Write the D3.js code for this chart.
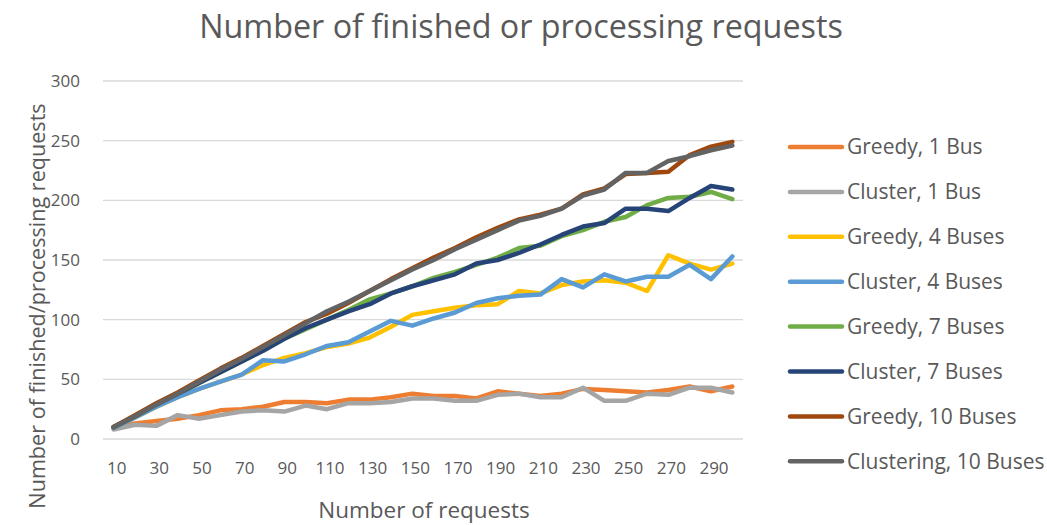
<!DOCTYPE html>
<html>
<head>
<meta charset="utf-8">
<title>Number of finished or processing requests</title>
<script src="https://d3js.org/d3.v7.min.js"></script>
<style>
  body { margin: 0; background: #fff; }
  text { font-family: "Open Sans", "Noto Sans", sans-serif; fill: #595959; }
</style>
</head>
<body>
<div id="chart"></div>
<script>
var width = 1047, height = 525;
var margin = {top: 81, right: 304, bottom: 86, left: 103};

// number of requests (x categories)
var requests = [10, 20, 30, 40, 50, 60, 70, 80, 90, 100, 110, 120, 130, 140, 150,
  160, 170, 180, 190, 200, 210, 220, 230, 240, 250, 260, 270, 280, 290, 300];
var xTicks = [10, 30, 50, 70, 90, 110, 130, 150, 170, 190, 210, 230, 250, 270, 290];
var yTicks = [0, 50, 100, 150, 200, 250, 300];

var greedy1 = [9, 13, 15, 17, 20, 24, 25, 27, 31, 31, 30, 33, 33, 35, 38,
  36, 36, 34, 40, 38, 36, 38, 42, 41, 40, 39, 41, 44, 40, 44];
var cluster1 = [8, 12, 11, 20, 17, 20, 23, 24, 23, 28, 25, 30, 30, 31, 34,
  34, 32, 32, 37, 38, 35, 35, 43, 32, 32, 38, 37, 43, 43, 39];
var greedy4 = [9, 18, 27, 35, 42, 48, 54, 62, 68, 72, 77, 80, 85, 94, 104,
  107, 110, 112, 113, 124, 122, 129, 132, 133, 131, 124, 154, 147, 142, 147];
var cluster4 = [9, 18, 27, 35, 42, 48, 54, 66, 65, 71, 78, 81, 90, 99, 95,
  101, 106, 114, 118, 120, 121, 134, 127, 138, 132, 136, 136, 146, 134, 153];
var greedy7 = [10, 19, 29, 38, 47, 56, 65, 74, 84, 92, 100, 108, 117, 122, 128,
  135, 140, 146, 152, 160, 162, 170, 175, 182, 186, 196, 202, 203, 207, 201];
var cluster7 = [10, 19, 29, 38, 47, 56, 65, 74, 84, 93, 100, 107, 113, 122, 128,
  133, 138, 147, 150, 156, 163, 171, 178, 181, 193, 193, 191, 202, 212, 209];
var greedy10 = [10, 20, 30, 39, 49, 59, 68, 78, 88, 98, 105, 114, 124, 134, 143,
  152, 160, 169, 177, 184, 188, 193, 205, 210, 222, 223, 224, 238, 245, 249];
var cluster10 = [10, 19, 29, 38, 48, 58, 67, 77, 87, 97, 107, 115, 124, 133, 142,
  150, 159, 167, 175, 183, 187, 193, 204, 209, 223, 223, 233, 237, 242, 246];

var seriesNames = ["Greedy, 1 Bus", "Cluster, 1 Bus", "Greedy, 4 Buses", "Cluster, 4 Buses",
  "Greedy, 7 Buses", "Cluster, 7 Buses", "Greedy, 10 Buses", "Clustering, 10 Buses"];
var seriesValues = [greedy1, cluster1, greedy4, cluster4, greedy7, cluster7, greedy10, cluster10];
var colors = ["#ED7D31", "#A5A5A5", "#FFC000", "#5B9BD5", "#70AD47", "#264478", "#9E480E", "#636363"];

var series = seriesNames.map(function(name, i) {
  return {name: name, color: colors[i], values: seriesValues[i]};
});

var svg = d3.select('#chart')
  .append('svg')
  .attr('width', width)
  .attr('height', height);

var x = d3.scaleBand()
  .domain(requests)
  .range([margin.left, width - margin.right])
  .padding(0);

var y = d3.scaleLinear()
  .domain([0, 300])
  .range([height - margin.bottom, margin.top]);

// grid lines
svg.append('g')
  .selectAll('line')
  .data(yTicks)
  .enter()
  .append('line')
  .attr('x1', margin.left)
  .attr('x2', width - margin.right)
  .attr('y1', d => y(d))
  .attr('y2', d => y(d))
  .attr('stroke', '#d9d9d9')
  .attr('stroke-width', 1.3);

// y tick labels
svg.append('g')
  .selectAll('text')
  .data(yTicks)
  .enter()
  .append('text')
  .attr('x', 80)
  .attr('y', d => y(d))
  .attr('dy', '0.35em')
  .attr('text-anchor', 'end')
  .attr('font-size', 17)
  .text(d => d);

// x tick labels
svg.append('g')
  .selectAll('text')
  .data(xTicks)
  .enter()
  .append('text')
  .attr('x', d => x(d) + x.bandwidth() / 2 + 3)
  .attr('y', 474)
  .attr('text-anchor', 'middle')
  .attr('font-size', 17)
  .text(d => d);

// lines
var line = d3.line()
  .x((d, i) => x(requests[i]) + x.bandwidth() / 2)
  .y(d => y(d));

svg.append('g')
  .selectAll('path')
  .data(series)
  .enter()
  .append('path')
  .attr('d', d => line(d.values))
  .attr('fill', 'none')
  .attr('stroke', d => d.color)
  .attr('stroke-width', 4.5)
  .attr('stroke-linejoin', 'round')
  .attr('stroke-linecap', 'round');

// titles
svg.append('text')
  .attr('x', 521)
  .attr('y', 38)
  .attr('text-anchor', 'middle')
  .attr('font-size', 32.3)
  .text('Number of finished or processing requests');

svg.append('text')
  .attr('x', 424)
  .attr('y', 518)
  .attr('text-anchor', 'middle')
  .attr('font-size', 22.5)
  .text('Number of requests');

svg.append('text')
  .attr('transform', 'translate(44.5,306) rotate(-90)')
  .attr('text-anchor', 'middle')
  .attr('font-size', 21.6)
  .text('Number of finished/processing requests');

// legend
var legend = svg.append('g')
  .selectAll('g')
  .data(series)
  .enter()
  .append('g')
  .attr('transform', (d, i) => `translate(790,${147 + i * 44.9})`);

legend.append('line')
  .attr('x1', 0)
  .attr('x2', 52)
  .attr('stroke', d => d.color)
  .attr('stroke-width', 4.5)
  .attr('stroke-linecap', 'round');

legend.append('text')
  .attr('x', 57)
  .attr('dy', '0.35em')
  .attr('font-size', 21)
  .text(d => d.name);
</script>
</body>
</html>
